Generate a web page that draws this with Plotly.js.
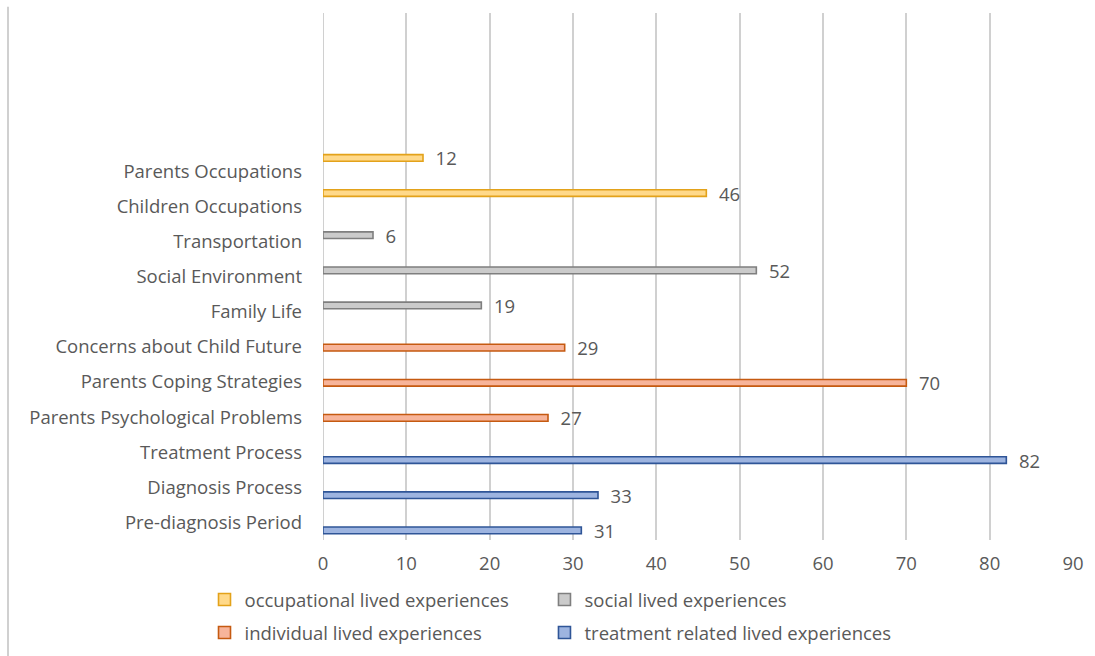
<!DOCTYPE html>
<html>
<head>
<meta charset="utf-8">
<script src="https://cdn.plot.ly/plotly-3.0.1.min.js"></script>
<style>
html,body{margin:0;padding:0;background:#fff;}
#chart{width:1095px;height:656px;}
</style>
</head>
<body>
<div id="chart"></div>
<script>
// Categories, bottom to top
var categories = [
  "Pre-diagnosis Period",
  "Diagnosis Process",
  "Treatment Process",
  "Parents Psychological Problems",
  "Parents Coping Strategies",
  "Concerns about Child Future",
  "Family Life",
  "Social Environment",
  "Transportation",
  "Children Occupations",
  "Parents Occupations"
];

var treatmentCats = ["Pre-diagnosis Period", "Diagnosis Process", "Treatment Process"];
var treatmentVals = [31, 33, 82];

var individualCats = ["Parents Psychological Problems", "Parents Coping Strategies", "Concerns about Child Future"];
var individualVals = [27, 70, 29];

var socialCats = ["Family Life", "Social Environment", "Transportation"];
var socialVals = [19, 52, 6];

var occupationalCats = ["Children Occupations", "Parents Occupations"];
var occupationalVals = [46, 12];

var seriesNames = [
  "treatment related lived experiences",
  "individual lived experiences",
  "social lived experiences",
  "occupational lived experiences"
];

var xTicks = [0, 10, 20, 30, 40, 50, 60, 70, 80, 90];

var FONT = "'Open Sans', 'Noto Sans', sans-serif";
var FS = 18.5;
var GREY = "#595959";

function mk(name, cats, vals, fill, line, slot, legendId) {
  return {
    type: "bar",
    orientation: "h",
    name: name,
    y: cats,
    x: vals,
    width: 0.19,
    offset: -0.32 + slot * 0.2,
    text: vals.map(function (v) { return "  " + v; }),
    textposition: "outside",
    constraintext: "none",
    cliponaxis: false,
    textfont: {family: FONT, size: FS, color: GREY},
    marker: {color: fill, line: {color: line, width: 1.6}},
    legend: legendId,
    hoverinfo: "x+y"
  };
}

var data = [
  mk(seriesNames[0], treatmentCats, treatmentVals, "#9DB4E0", "#2F5597", 0, "legend4"),
  mk(seriesNames[1], individualCats, individualVals, "#F7B49A", "#C55A11", 1, "legend3"),
  mk(seriesNames[2], socialCats, socialVals, "#CBCBCB", "#7F7F7F", 2, "legend2"),
  mk(seriesNames[3], occupationalCats, occupationalVals, "#FFD98A", "#E3A21A", 3, "legend")
];

function legendBox(xPos, yPos) {
  return {
    orientation: "h",
    x: xPos,
    xanchor: "left",
    y: yPos,
    yanchor: "middle",
    font: {family: FONT, size: FS, color: GREY},
    itemwidth: 30,
    bgcolor: "rgba(0,0,0,0)"
  };
}

var COL1 = -0.158, COL2 = 0.2953, ROW1 = -0.1139, ROW2 = -0.1765;

var layout = {
  width: 1095,
  height: 656,
  margin: {l: 323, r: 22, t: 13, b: 116, autoexpand: false},
  paper_bgcolor: "#fff",
  plot_bgcolor: "#fff",
  font: {family: FONT, size: FS, color: GREY},
  showlegend: true,
  legend: legendBox(COL1, ROW1),
  legend2: legendBox(COL2, ROW1),
  legend3: legendBox(COL1, ROW2),
  legend4: legendBox(COL2, ROW2),
  xaxis: {
    range: [0, 90],
    tickvals: xTicks,
    ticktext: xTicks.map(String),
    showgrid: true,
    gridcolor: "#D0D0D0",
    gridwidth: 2,
    zeroline: false,
    showline: false,
    ticks: "",
    ticklabelstandoff: 10,
    tickfont: {family: FONT, size: FS, color: GREY},
    fixedrange: true
  },
  yaxis: {
    type: "category",
    categoryorder: "array",
    categoryarray: categories,
    range: [-0.5, 14.5],
    showgrid: false,
    zeroline: false,
    showline: false,
    ticks: "",
    ticklabelstandoff: 20,
    tickfont: {family: FONT, size: FS, color: GREY},
    fixedrange: true
  },
  shapes: [
    {type: "line", xref: "paper", yref: "paper", x0: -0.42, x1: -0.42, y0: 1.012, y1: -0.25,
     line: {color: "#D0D0D0", width: 2}},
    {type: "line", xref: "x", yref: "paper", x0: 0, x1: 0, y0: 0, y1: 1,
     line: {color: "#D0D0D0", width: 2}, layer: "below"}
  ]
};

Plotly.newPlot("chart", data, layout, {displayModeBar: false, staticPlot: true});
</script>
</body>
</html>
